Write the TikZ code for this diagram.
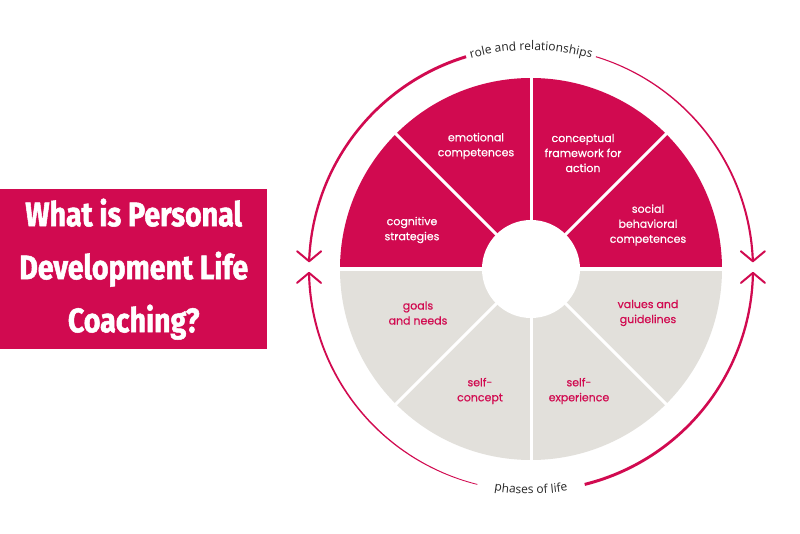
\documentclass[tikz,border=0pt]{standalone}
\usepackage{fontspec}
\setmainfont{Poppins}
\newfontfamily\segfont[FakeBold=0.5]{Poppins}
\newfontfamily\titlefont[FakeStretch=0.84,FakeBold=1.5]{Fira Sans}
\newfontfamily\arcfont{Open Sans}
\usetikzlibrary{decorations.text}
\definecolor{mag}{HTML}{D10A50}
\definecolor{sand}{HTML}{E2E0DB}
\definecolor{ink}{HTML}{262626}
\newcommand\taperarc[4]{%
  \fill[mag] plot[domain=#1:#2, samples=60, variable=\t]
    ({(222+0.5*(#3+(#4-#3)*(\t-#1)/(#2-#1)))*cos(\t)},{(222+0.5*(#3+(#4-#3)*(\t-#1)/(#2-#1)))*sin(\t)})
    -- plot[domain=#2:#1, samples=60, variable=\t]
    ({(222-0.5*(#3+(#4-#3)*(\t-#1)/(#2-#1)))*cos(\t)},{(222-0.5*(#3+(#4-#3)*(\t-#1)/(#2-#1)))*sin(\t)})
    -- cycle;}
\begin{document}
\begin{tikzpicture}[x=1pt,y=1pt,
  seglabel/.style={align=center, font=\segfont\fontsize{11}{15}\selectfont, inner sep=0},
  onmag/.style={seglabel, text=white},
  onsand/.style={seglabel, text=mag},
  arrowhead/.style={draw=mag, line width=2, line cap=round, line join=round},
  divider/.style={draw=white, line width=3}]
\useasboundingbox (-531,-264) rectangle (269,269);
\fill[white] (-531,-264) rectangle (269,269);

% title box
\node[fill=mag, minimum width=267, minimum height=160, anchor=north west, inner sep=0] (box) at (-531,80) {};
\node[text=white, align=center, font=\titlefont\bfseries\fontsize{34}{53}\selectfont] (title) at (box.center) {What is Personal\\Development Life\\Coaching?};

% wheel
\fill[mag] (0:191) arc (0:180:191) -- cycle;
\fill[sand] (180:191) arc (180:360:191) -- cycle;
\draw[draw=white, line width=4] (-195,0) -- (195,0);
\draw[divider] (0,-195) -- (0,195);
\draw[divider] (45:195) -- (225:195);
\draw[divider] (135:195) -- (315:195);
\node[circle, fill=white, minimum size=98, inner sep=0] (hub) at (0,0) {};

% labels
\node[onmag] (emo) at (-55,123) {emotional\\competences};
\node[onmag] (cog) at (-119,39) {cognitive\\strategies};
\node[onmag] (con) at (52,116) {conceptual\\framework for\\action};
\node[onmag] (soc) at (117,44) {social\\behavioral\\competences};
\node[onsand] (goal) at (-113,-44) {goals\\and needs};
\node[onsand] (sc) at (-51,-122) {self-\\concept};
\node[onsand] (val) at (117,-44) {values and\\guidelines};
\node[onsand] (se) at (48,-122) {self-\\experience};

% outer arcs
\taperarc{107}{178}{3}{2.2}
\taperarc{73}{2}{1}{2.2}
\taperarc{256}{181}{0.8}{2.2}
\taperarc{284}{359}{3}{2.2}

\coordinate (tl) at (178:222);
\coordinate (tr) at (2:222);
\coordinate (bl) at (181:222);
\coordinate (br) at (359:222);
\draw[arrowhead] ([xshift=-12,yshift=10]tl) -- (tl) -- ([xshift=12,yshift=10]tl);
\draw[arrowhead] ([xshift=-12,yshift=10]tr) -- (tr) -- ([xshift=12,yshift=10]tr);
\draw[arrowhead] ([xshift=-12,yshift=-10]bl) -- (bl) -- ([xshift=12,yshift=-10]bl);
\draw[arrowhead] ([xshift=-12,yshift=-10]br) -- (br) -- ([xshift=12,yshift=-10]br);

% arc texts
\path[decorate, decoration={text along path, text align=center, text color=ink,
  text={|\arcfont\fontsize{12}{12}\selectfont|role and relationships}}]
  (120:219) arc (120:60:219);
\path[decorate, decoration={text along path, text align=center, text color=ink,
  text={|\arcfont\fontsize{12}{12}\selectfont|phases of life}}]
  (240:225) arc (240:300:225);
\end{tikzpicture}
\end{document}
